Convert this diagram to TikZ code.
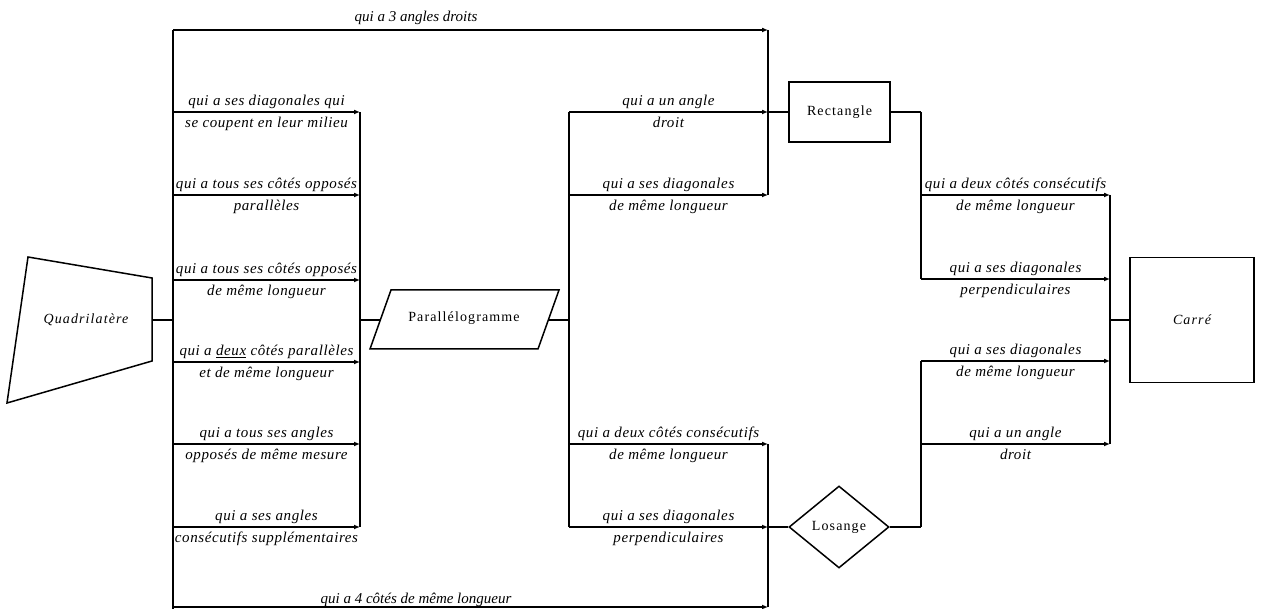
\documentclass[tikz,border=0pt]{standalone}
\usepackage{fontspec}
\setmainfont{Liberation Serif}
\newfontfamily\labfont[LetterSpace=4]{Liberation Serif}
\newfontfamily\nodefont[LetterSpace=8]{Liberation Serif}
\usetikzlibrary{shapes.geometric,arrows.meta}
\begin{document}
\begin{tikzpicture}[x=1pt,y=-1pt, line width=1.8pt,
  lab/.style={font=\labfont\itshape\fontsize{15}{17}\selectfont, inner sep=2pt},
  labb/.style={lab, inner sep=1pt, yshift=-3pt},
  labw/.style={font=\itshape\fontsize{15}{17}\selectfont, inner sep=2pt},
  nodetxt/.style={font=\nodefont\fontsize{14}{16}\selectfont},
  nodetxti/.style={font=\nodefont\itshape\fontsize{14}{16}\selectfont},
  arr/.style={-{Latex[length=6pt,width=5pt]}},
  boxnode/.style={draw, rectangle, inner sep=0pt},
  ]
\useasboundingbox (0,0) rectangle (1262,609);
% shapes
\node[nodetxti] (quad) at (86,320) {Quadrilatère};
\draw[line width=1.5pt] (7,403) -- (28,257) -- (152,278) -- (152,361) -- cycle;
\coordinate (quadE) at (152,320);
\node[nodetxt] (para) at (464,318) {Parallélogramme};
\draw[line width=1.5pt] (391,290) -- (559,290) -- (538,349) -- (370,349) -- cycle;
\coordinate (paraW) at (380,320);
\coordinate (paraE) at (548,320);
\node[boxnode, nodetxt, line width=1.5pt, minimum width=101pt, minimum height=60pt] (rect) at (839.5,112) {Rectangle};
\node[draw, diamond, nodetxt, line width=1.5pt, inner sep=0pt, minimum width=100pt, minimum height=82pt] (los) at (839,527) {Losange};
\node[boxnode, nodetxti, line width=1.5pt, minimum width=124pt, minimum height=125pt] (carre) at (1192,320) {Carré};
% junction coordinates
\coordinate (L) at (173,320);
\coordinate (Ltop) at (173,30);
\coordinate (Lbot) at (173,607);
\coordinate (R1) at (360,320);
\coordinate (P) at (569,320);
\coordinate (Tr) at (768,30);
\coordinate (Br) at (768,607);
\coordinate (Ra) at (921,112);
\coordinate (La) at (921,527);
\coordinate (C) at (1110,320);
% left section
\draw (quadE) -- (L);
\draw (Ltop) -- (173,609);
\draw[arr] (Ltop) -- (Tr);
\node[labw, anchor=south] (t3) at (416,28) {qui a 3 angles droits};
\draw[arr] (Lbot) -- (Br);
\node[labw, anchor=south] (t4) at (416,610) {qui a 4 côtés de même longueur};
\foreach \y/\a/\b in {112/{qui a ses diagonales qui}/{se coupent en leur milieu},
  195/{qui a tous ses côtés opposés}/{parallèles},
  280/{qui a tous ses côtés opposés}/{de même longueur},
  362/{qui a \underline{deux} côtés parallèles}/{et de même longueur},
  444/{qui a tous ses angles}/{opposés de même mesure},
  527/{qui a ses angles}/{consécutifs supplémentaires}}{
  \draw[arr] (173,\y) -- (360,\y) node[midway, above, lab] {\a} node[midway, below, labb] {\b};
}
\draw (360,112) -- (360,527);
\draw (R1) -- (paraW);
\draw (paraE) -- (P);
\draw (569,112) -- (569,527);
\foreach \y/\a/\b in {112/{qui a un angle}/{droit},
  195/{qui a ses diagonales}/{de même longueur},
  444/{qui a deux côtés consécutifs}/{de même longueur},
  527/{qui a ses diagonales}/{perpendiculaires}}{
  \draw[arr] (569,\y) -- (768,\y) node[midway, above, lab] {\a} node[midway, below, labb] {\b};
}
\draw (Tr) -- (768,195);
\draw (768,444) -- (Br);
\draw (768,112) -- (rect.west);
\draw (768,527) -- (los.west);
\draw (rect.east) -- (Ra);
\draw (los.east) -- (La);
\draw (Ra) -- (921,279);
\draw (921,361) -- (La);
\foreach \y/\a/\b in {195/{qui a deux côtés consécutifs}/{de même longueur},
  279/{qui a ses diagonales}/{perpendiculaires},
  361/{qui a ses diagonales}/{de même longueur},
  444/{qui a un angle}/{droit}}{
  \draw[arr] (921,\y) -- (1110,\y) node[midway, above, lab] {\a} node[midway, below, labb] {\b};
}
\draw (1110,195) -- (1110,444);
\draw (C) -- (carre.west);
\end{tikzpicture}
\end{document}
